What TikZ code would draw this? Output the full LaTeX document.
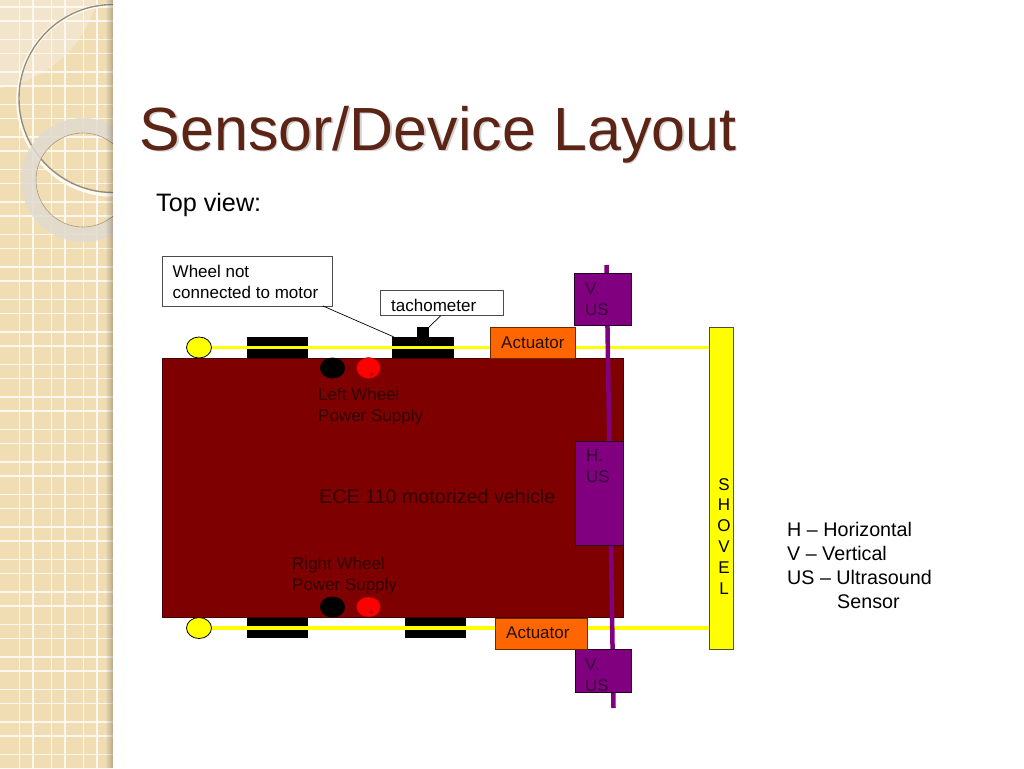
\documentclass[tikz,border=0pt]{standalone}
\usepackage{fontspec}
\setmainfont{Liberation Sans}
\usetikzlibrary{shapes.geometric,calc}
\definecolor{tan1}{HTML}{F0DDB4}
\definecolor{tan2}{HTML}{F3E5CB}
\definecolor{body}{HTML}{7F0000}
\definecolor{bodytxt}{HTML}{330000}
\definecolor{purp}{HTML}{800080}
\definecolor{purptxt}{HTML}{380038}
\definecolor{orng}{HTML}{FF6600}
\definecolor{ttl}{HTML}{5B2415}
\definecolor{ringc}{HTML}{E0DBD0}
\definecolor{yel}{HTML}{FFFF00}
\tikzset{
 lbl/.style={font=\fontsize{17}{21}\selectfont,align=left,inner sep=0pt,anchor=north west},
 oneline/.style={font=\fontsize{17}{21}\selectfont,inner sep=0pt,anchor=base west},
 callout/.style={draw=black!70,line width=.8pt,fill=white},
 usbox/.style={draw=black!70!purp,line width=.8pt,fill=purp},
 actbox/.style={draw=black!60!orng,line width=.8pt,fill=orng},
 wheel/.style={fill=black},
 bar/.style={yel,line width=3.5pt},
 caster/.style={draw=black,line width=.8pt,fill=yel},
 leader/.style={draw=black,line width=.7pt}
}
\begin{document}
\begin{tikzpicture}[x=1pt,y=-1pt]
\useasboundingbox (0,0) rectangle (1024,768);
\fill[white] (0,0) rectangle (1024,768);
% decorative strip
\begin{scope}
\clip (0,0) rectangle (113,768);
\fill[tan1] (0,0) rectangle (113,768);
\fill[tan2] (0,0) -- (0,88) .. controls (50,80) and (85,45) .. (97,0) -- cycle;
\foreach \i in {0,1,2}{
  \draw[white!80!tan1,line width=1.2pt] (19.5+\i*32,0) -- (19.5+\i*32,768);
  \draw[white!80!tan1,line width=1.2pt] (33+\i*32,0) -- (33+\i*32,768);
}
\foreach \i in {0,...,23}{
  \draw[white!80!tan1,line width=1.2pt] (0,7+\i*32.5) -- (113,7+\i*32.5);
  \draw[white!80!tan1,line width=1.2pt] (0,21+\i*32.5) -- (113,21+\i*32.5);
}
\draw[line width=3.5pt,color=white!85!tan1] (113,100) circle[radius=95];
\draw[line width=1.4pt,color=black!35!tan1!85!gray] (113,98.5) circle[radius=94];
\fill[ringc,even odd rule,opacity=.85] (83,180) circle[radius=62] (83,180) circle[radius=47];
\draw[color=black!30!tan1,line width=.6pt] (83,180) circle[radius=47];
\foreach \i in {0,...,7}{
  \fill[black,opacity=.03*\i] (105+\i,0) rectangle (106+\i,768);
}
\end{scope}
% title
\node[inner sep=0pt,anchor=base west,text=black!18,font=\fontsize{61}{66}\selectfont] at (141,151.5) {Sensor/Device Layout};
\node (title) [inner sep=0pt,anchor=base west,text=ttl,font=\fontsize{61}{66}\selectfont] at (139.5,150) {Sensor/Device Layout};
\node (topview) [inner sep=0pt,anchor=base west,font=\fontsize{25.2}{28}\selectfont] at (156,211) {Top view:};
% wheels
\fill[wheel] (247,336.5) rectangle (308,358);
\fill[wheel] (392,336.5) rectangle (454,358);
\fill[wheel] (417,326.5) rectangle (429,337);
\fill[wheel] (247,617) rectangle (308,638);
\fill[wheel] (405,617) rectangle (466,638);
% axles
\node (ctop) [caster,ellipse,minimum width=25pt,minimum height=21pt,inner sep=0pt] at (199,347.5) {};
\node (cbot) [caster,ellipse,minimum width=25pt,minimum height=21pt,inner sep=0pt] at (199,628) {};
\node (shovel) [draw=black!70,line width=.8pt,fill=yel,minimum width=24.5pt,minimum height=322pt,inner sep=0pt,anchor=north west] at (708.5,326.5) {};
\draw[bar] (ctop) -- (shovel.west |- ctop);
\draw[bar] (cbot) -- (shovel.west |- cbot);
% body
\node (veh) [fill=body,draw=black!40!body,line width=.6pt,minimum width=461pt,minimum height=259pt,inner sep=0pt,anchor=north west] at (162,358) {};
% batteries
\node (bl1) [ellipse,fill=black,minimum width=25pt,minimum height=21pt,inner sep=0pt] at (332.5,368) {};
\node (rl1) [ellipse,fill=red,draw=black!30!red,minimum width=24pt,minimum height=21pt,inner sep=0pt] at (368.5,368) {};
\node (pl1) at (371.5,374.5) [inner sep=0pt,text=bodytxt,font=\fontsize{9}{9}\selectfont] {+};
\node (bl2) [ellipse,fill=black,minimum width=25pt,minimum height=21pt,inner sep=0pt] at (332.5,607) {};
\node (rl2) [ellipse,fill=red,draw=black!30!red,minimum width=24pt,minimum height=20pt,inner sep=0pt] at (368.5,607) {};
\node (pl2) at (371.5,612.5) [inner sep=0pt,text=bodytxt,font=\fontsize{9}{9}\selectfont] {+};
% rod
\coordinate (rodtop) at (606.5,265);
\coordinate (rodbot) at (613.5,708);
\draw[purp,line width=4.5pt] (rodtop) -- (rodbot);
% boxes
\node (ust) [usbox,minimum width=57pt,minimum height=52pt,inner sep=0pt,anchor=north west] at (574,273) {};
\node (ush) [usbox,minimum width=48pt,minimum height=104pt,inner sep=0pt,anchor=north west] at (575,441) {};
\node (usb) [usbox,minimum width=56pt,minimum height=42.5pt,inner sep=0pt,anchor=north west] at (574.5,649) {};
\node (ustx) [lbl,text=purptxt] at (585,283) {V.\\US};
\node (ushx) [lbl,text=purptxt] at (586,450) {H.\\US};
\node (usbx) [lbl,text=purptxt] at (585,658.5) {V.\\US};
\node (actt) [actbox,minimum width=85pt,minimum height=31pt,inner sep=0pt,anchor=north west] at (490,327) {};
\node (actttx) [oneline,text=black!85!orng] at (501,348.5) {Actuator};
\node (actb) [actbox,minimum width=92pt,minimum height=31pt,inner sep=0pt,anchor=north west] at (495,618) {};
\node (actbtx) [oneline,text=black!85!orng] at (506,638.5) {Actuator};
% callouts
\coordinate (wtip) at (394,337);
\coordinate (ttip) at (429,327);
\coordinate (wstart) at (323,306);
\coordinate (tstart) at (441,315.5);
\node (wn) [callout,minimum width=170pt,minimum height=50pt,inner sep=0pt,anchor=north west] at (162,256) {};
\node (wntx) [lbl,text=black] at (172.5,264.5) {Wheel not\\connected to motor};
\node (tach) [callout,minimum width=123pt,minimum height=25pt,inner sep=0pt,anchor=north west] at (380,290) {};
\node (tachtx) [oneline] at (391,311.5) {tachometer};
\draw[leader] (wstart) -- (wtip);
\draw[leader] (tstart) -- (ttip);
% body text
\node (lw) [lbl,text=bodytxt] at (318,387.5) {Left Wheel\\Power Supply};
\node (rw) [lbl,text=bodytxt] at (292,556.5) {Right Wheel\\Power Supply};
\node (ece) [inner sep=0pt,anchor=base west,text=bodytxt,font=\fontsize{19.7}{22}\selectfont] at (319,503.5) {ECE 110 motorized vehicle};
% shovel text
\node (shtx) [inner sep=0pt,align=center,font=\fontsize{17}{20.8}\selectfont,anchor=north] at (724,478) {S\\H\\O\\V\\E\\L};
% legend
\node (legend) [inner sep=0pt,align=left,anchor=north west,font=\fontsize{19.7}{24}\selectfont] at (787,522) {H – Horizontal\\V – Vertical\\US – Ultrasound\\\hspace*{50pt}Sensor};
\end{tikzpicture}
\end{document}
